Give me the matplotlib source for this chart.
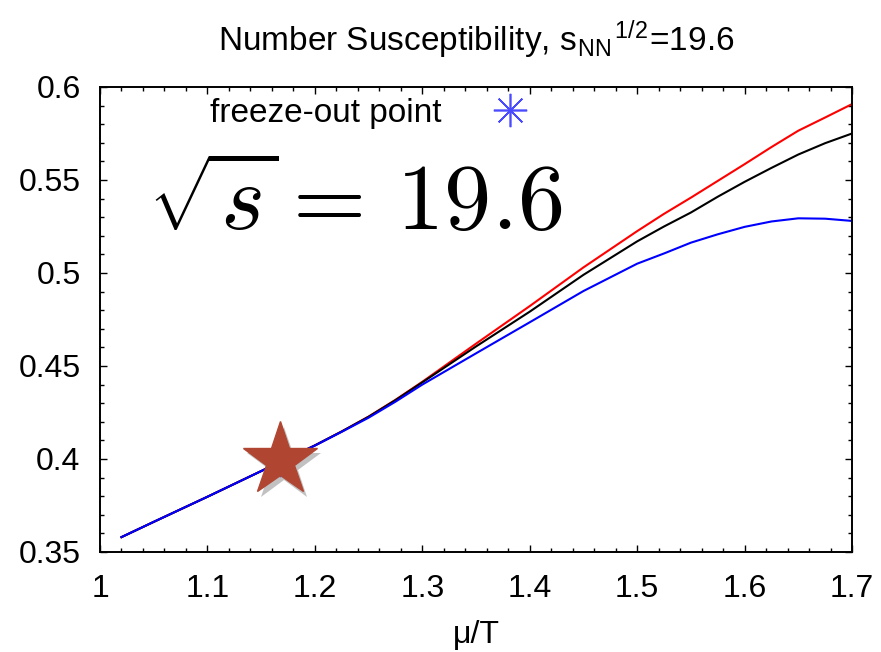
import matplotlib
matplotlib.use('Agg')
import matplotlib.pyplot as plt
import matplotlib.patheffects as pe
from matplotlib.ticker import MultipleLocator, FuncFormatter

plt.rcParams['font.family'] = ['Liberation Sans', 'DejaVu Sans']
plt.rcParams['mathtext.fontset'] = 'cm'

# number susceptibility vs mu/T, sqrt(s_NN) = 19.6
mu_T = [1.02, 1.05, 1.10, 1.15, 1.20, 1.225, 1.25, 1.275, 1.30, 1.35, 1.40,
        1.45, 1.50, 1.525, 1.55, 1.575, 1.60, 1.625, 1.65, 1.675, 1.70]
chi_red = [0.358, 0.3662, 0.3797, 0.3935, 0.4073, 0.4148, 0.4228, 0.4318,
           0.4415, 0.4620, 0.4822, 0.5030, 0.5225, 0.5318, 0.5405, 0.5495,
           0.5585, 0.5677, 0.5765, 0.5836, 0.5908]
chi_black = [0.358, 0.3662, 0.3797, 0.3935, 0.4073, 0.4148, 0.4227, 0.4316,
             0.4412, 0.4605, 0.4792, 0.4990, 0.5170, 0.5250, 0.5325, 0.5410,
             0.5490, 0.5565, 0.5637, 0.5698, 0.5750]
chi_blue = [0.358, 0.3662, 0.3797, 0.3935, 0.4072, 0.4146, 0.4222, 0.4308,
            0.4400, 0.4568, 0.4735, 0.4903, 0.5050, 0.5105, 0.5163, 0.5208,
            0.5248, 0.5277, 0.5294, 0.5292, 0.5280]

# freeze-out point
freeze_mu = [1.1676]
freeze_chi = [0.3995]

fig = plt.figure(figsize=(8.81, 6.52), dpi=100)
ax = fig.add_axes([100 / 881, 1 - 552 / 652, 752 / 881, 465 / 652])

for chi, c in [(chi_red, 'red'), (chi_black, 'black'), (chi_blue, 'blue')]:
    ax.plot(mu_T, chi, color=c, lw=1.5, solid_joinstyle='round')

ax.plot(freeze_mu, freeze_chi, ls='none', marker=(8, 2, 0), markersize=24,
        markeredgewidth=1.2, color='#4a4aff', label='freeze-out point', zorder=3)
ax.plot(freeze_mu, freeze_chi, ls='none', marker='*', markersize=56,
        color='#b04632', markeredgecolor='#b04632', zorder=4,
        path_effects=[pe.SimplePatchShadow(offset=(3, -4), shadow_rgbFace='0.4', alpha=0.4),
                      pe.Normal()])

ax.set_xlim(1, 1.7)
ax.set_ylim(0.35, 0.6)
ax.xaxis.set_major_locator(MultipleLocator(0.1))
ax.xaxis.set_minor_locator(MultipleLocator(0.02))
ax.yaxis.set_major_locator(MultipleLocator(0.05))
ax.yaxis.set_minor_locator(MultipleLocator(0.01))
fmt = FuncFormatter(lambda v, p: '%g' % round(v, 3))
ax.xaxis.set_major_formatter(fmt)
ax.yaxis.set_major_formatter(fmt)
ax.tick_params(which='both', direction='in', top=True, right=True, labelsize=23, width=1)
ax.tick_params(which='major', length=5)
ax.tick_params(which='minor', length=3)
ax.tick_params(axis='y', pad=14)
ax.tick_params(axis='x', pad=16)
for s in ax.spines.values():
    s.set_linewidth(1.4)

ax.set_xlabel('\u03bc/T', fontsize=23, labelpad=11)
ax.set_title(r'Number Susceptibility, s$_\mathregular{NN}$$^\mathregular{1/2}$=19.6',
             fontsize=24, pad=26)

ax.text(48 / 752, 322 / 465, r'$\sqrt{s}=\,19.6$', fontsize=68, transform=ax.transAxes,
        ha='left', va='baseline')

ax.legend(loc='center left', bbox_to_anchor=(0.129, 0.944), markerfirst=False,
          frameon=False, fontsize=24, numpoints=1, handlelength=2.5,
          handletextpad=0.8, borderaxespad=0)

fig.savefig('out.png', dpi=100)
